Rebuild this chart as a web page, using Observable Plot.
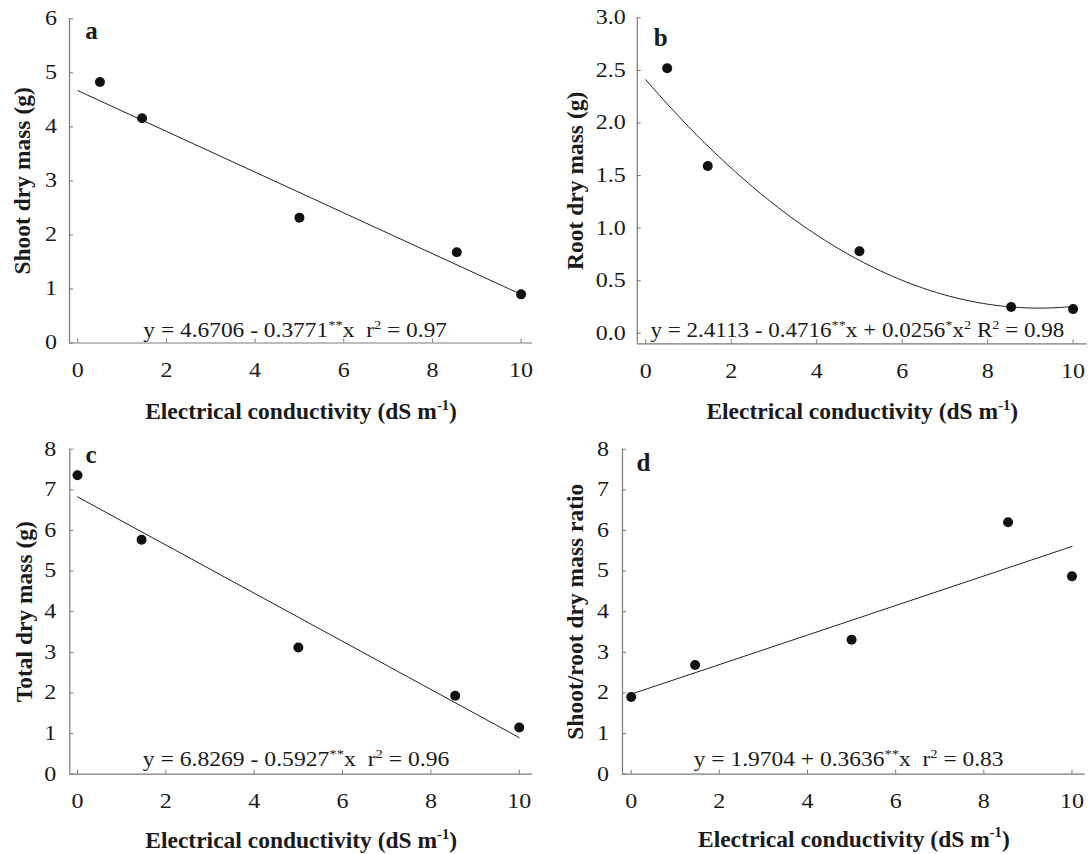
<!DOCTYPE html>
<html>
<head>
<meta charset="utf-8">
<script src="https://cdn.jsdelivr.net/npm/d3@7"></script>
<script src="https://cdn.jsdelivr.net/npm/@observablehq/plot@0.6"></script>
<style>
  html, body { margin: 0; padding: 0; background: #ffffff; }
  #wrap { position: relative; width: 1088px; height: 854px; background: #ffffff; overflow: hidden; }
  .panel { position: absolute; }
</style>
</head>
<body>
<div id="wrap"></div>
<script>
// ---------- data ----------
const ecAB = [0.5, 1.45, 5, 8.55, 10];          // electrical conductivity, panels a & b
const ecCD = [0, 1.45, 5, 8.55, 10];            // electrical conductivity, panels c & d
const shootMass = [4.83, 4.16, 2.32, 1.68, 0.90];
const rootMass  = [2.52, 1.59, 0.78, 0.25, 0.23];
const totalMass = [7.36, 5.77, 3.12, 1.93, 1.15];
const shootRootRatio = [1.90, 2.69, 3.31, 6.20, 4.87];

// regression coefficients printed on the figure (intercept, linear, quadratic)
const fitShoot = [4.6706, -0.3771, 0];
const fitRoot  = [2.4113, -0.4716, 0.0256];
const fitTotal = [6.8269, -0.5927, 0];
const fitRatio = [1.9704, 0.3636, 0];

const xTicks = [0, 2, 4, 6, 8, 10];
const yTicksA = [0, 1, 2, 3, 4, 5, 6];
const yTicksB = [0, 0.5, 1, 1.5, 2, 2.5, 3];
const yTicksCD = [0, 1, 2, 3, 4, 5, 6, 7, 8];

const letters = ["a", "b", "c", "d"];
const yLabels = ["Shoot dry mass (g)", "Root dry mass (g)", "Total dry mass (g)", "Shoot/root dry mass ratio"];
const xLabel = "Electrical conductivity (dS m^{-1})";
const equations = [
  "y = 4.6706 - 0.3771^{**}x  r^{2} = 0.97",
  "y = 2.4113 - 0.4716^{**}x + 0.0256^{*}x^{2} R^{2} = 0.98",
  "y = 6.8269 - 0.5927^{**}x  r^{2} = 0.96",
  "y = 1.9704 + 0.3636^{**}x  r^{2} = 0.83"
];

// ---------- styling / layout ----------
const FONT = "'Liberation Serif','Times New Roman',Times,serif";
const AXIS_GRAY = "#7a7a7a";
const INK = "#1a1a1a";

const panels = [
  {left: 0, top: 0, xs: ecAB, ys: shootMass, coef: fitShoot, yTicks: yTicksA, yFmt: d3.format("d"),
   xDom: [-0.187, 10.257], yDom: [0, 6], m: {l: 69, r: 12, t: 18.3, b: 84.5},
   letterDx: 15.7, letterDy: 12, yLabDx: -47, xLabDy: 68.5, eqDx: -5.8, eqDy: -12.2, eqW: 304, yPad: 16.5},
  {left: 544, top: 0, xs: ecAB, ys: rootMass, coef: fitRoot, yTicks: yTicksB, yFmt: d3.format(".1f"),
   xDom: [-0.199, 10.33], yDom: [-0.1, 3.0], m: {l: 92.8, r: 1.3, t: 17.3, b: 83.7},
   letterDx: 16.4, letterDy: 19.7, yLabDx: -61.6, xLabDy: 67.7, eqDx: -4.9, eqDy: -13, eqW: 414, yPad: 15.5},
  {left: 0, top: 427, xs: ecCD, ys: totalMass, coef: fitTotal, yTicks: yTicksCD, yFmt: d3.format("d"),
   xDom: [-0.174, 10.30], yDom: [0, 8], m: {l: 69.3, r: 12, t: 21.7, b: 80.3},
   letterDx: 15.6, letterDy: 5.3, yLabDx: -45, xLabDy: 66.7, eqDx: -5.1, eqDy: -14.8, eqW: 307, yPad: 17.5},
  {left: 544, top: 427, xs: ecCD, ys: shootRootRatio, coef: fitRatio, yTicks: yTicksCD, yFmt: d3.format("d"),
   xDom: [-0.197, 10.30], yDom: [0, 8], m: {l: 78, r: 3.3, t: 21.7, b: 80.3},
   letterDx: 13.9, letterDy: 13.6, yLabDx: -46.8, xLabDy: 65.1, eqDx: -5.2, eqDy: -14.8, eqW: 310, yPad: 17.5}
];

const fitCurve = (coef, quadratic) => {
  const xs = quadratic ? d3.range(0, 10.0001, 0.1) : [0, 10];
  return xs.map(x => ({x, y: coef[0] + coef[1] * x + coef[2] * x * x}));
};

const wrap = document.getElementById("wrap");
const SVGNS = "http://www.w3.org/2000/svg";

function applySuperscripts(svg) {
  svg.querySelectorAll("text").forEach(t => {
    const s = t.textContent;
    if (!s.includes("^{")) return;
    const base = parseFloat(getComputedStyle(t).fontSize) || 20;
    const shift = base * 0.4;
    const parts = s.split(/(\^\{[^}]*\})/).filter(p => p.length);
    while (t.firstChild) t.removeChild(t.firstChild);
    let raised = false;
    for (const p of parts) {
      const ts = document.createElementNS(SVGNS, "tspan");
      if (p.startsWith("^{")) {
        ts.textContent = p.slice(2, -1);
        ts.setAttribute("font-size", (base * 0.62).toFixed(2) + "px");
        if (!raised) { ts.setAttribute("dy", (-shift).toFixed(2)); raised = true; }
      } else {
        ts.textContent = p;
        if (raised) { ts.setAttribute("dy", shift.toFixed(2)); raised = false; }
      }
      t.appendChild(ts);
    }
  });
}

function scaleTextX(t, s) {
  const tr = t.getAttribute("transform");
  if (tr) { t.setAttribute("transform", tr + ` scale(${s},1)`); return; }
  const x = parseFloat(t.getAttribute("x") || 0);
  t.setAttribute("transform", `translate(${x},0) scale(${s},1) translate(${-x},0)`);
}

panels.forEach((p, i) => {
  const pts = p.xs.map((x, k) => ({x, y: p.ys[k]}));
  const curve = fitCurve(p.coef, p.coef[2] !== 0);
  const svg = Plot.plot({
    width: 544,
    height: 427,
    marginLeft: p.m.l,
    marginRight: p.m.r,
    marginTop: p.m.t,
    marginBottom: p.m.b,
    style: {fontFamily: FONT, color: INK, background: "transparent", overflow: "visible"},
    x: {domain: p.xDom},
    y: {domain: p.yDom},
    marks: [
      Plot.ruleY([p.yDom[0]], {stroke: AXIS_GRAY, strokeWidth: 1.2}),
      Plot.ruleX([p.xDom[0]], {stroke: AXIS_GRAY, strokeWidth: 1.2}),
      Plot.axisX(xTicks, {tickSize: -4, tickPadding: 24, fontSize: 20, stroke: AXIS_GRAY, fill: INK, label: null, tickFormat: d3.format("d")}),
      Plot.axisY(p.yTicks, {tickSize: -4, tickPadding: p.yPad, fontSize: 20, stroke: AXIS_GRAY, fill: INK, label: null, tickFormat: p.yFmt}),
      Plot.line(curve, {x: "x", y: "y", stroke: "#222", strokeWidth: 1, curve: "linear"}),
      Plot.dot(pts, {x: "x", y: "y", r: 5, fill: "#111", stroke: null}),
      Plot.text([letters[i]], {text: d => d, frameAnchor: "top-left", textAnchor: "start", lineAnchor: "middle", dx: p.letterDx, dy: p.letterDy, fontSize: 25, fontWeight: "bold", fill: INK}),
      Plot.text([yLabels[i]], {text: d => d, frameAnchor: "left", textAnchor: "middle", lineAnchor: "middle", rotate: -90, dx: p.yLabDx, fontSize: 23.5, fontWeight: "bold", fill: INK}),
      Plot.text([xLabel], {text: d => d, frameAnchor: "bottom", textAnchor: "middle", lineAnchor: "middle", dy: p.xLabDy, fontSize: 23.5, fontWeight: "bold", fill: INK}),
      Plot.text([equations[i]], {text: d => d, frameAnchor: "bottom", textAnchor: "middle", lineAnchor: "middle", dx: p.eqDx, dy: p.eqDy, fontSize: 20, fill: INK})
    ]
  });
  svg.classList.add("panel");
  svg.style.left = p.left + "px";
  svg.style.top = p.top + "px";
  wrap.appendChild(svg);

  applySuperscripts(svg);
  // tick labels in the reference are slightly wide
  svg.querySelectorAll('g[aria-label$="tick label"] text').forEach(t => scaleTextX(t, 1.2));
  // fit the regression equation to its printed width
  svg.querySelectorAll("text").forEach(t => {
    if (!t.textContent.startsWith("y = ")) return;
    const w = t.getBBox().width;
    if (w > 0) scaleTextX(t, (p.eqW / w).toFixed(4));
  });
});
</script>
</body>
</html>
